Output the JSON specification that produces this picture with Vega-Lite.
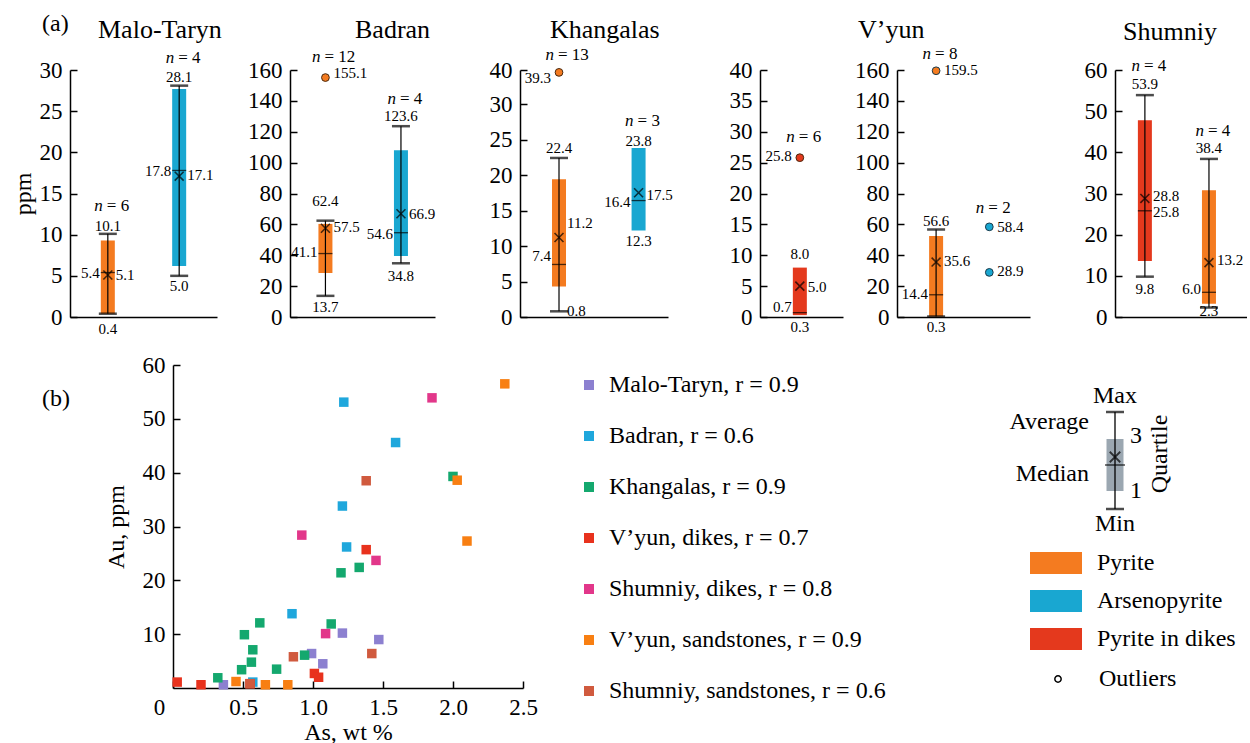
{
"$schema":"https://vega.github.io/schema/vega-lite/v6.json",
"background":"white",
"padding":{"left":11,"top":11,"right":0,"bottom":0},
"config":{
 "font":"Liberation Serif",
 "view":{"stroke":null},
 "axis":{"labelFont":"Liberation Serif","titleFont":"Liberation Serif","labelColor":"black","titleColor":"black","domainColor":"black","tickColor":"black","domainWidth":1.5,"tickWidth":1.5,"grid":false,"titleFontWeight":"normal","labelOverlap":false},
 "axisY":{"tickSize":-7,"labelFontSize":23,"labelPadding":15,"titleFontSize":24,"titlePadding":4},
 "title":{"font":"Liberation Serif","fontWeight":"normal","fontSize":26,"color":"black"},
 "text":{"font":"Liberation Serif","color":"black"},
 "legend":{"labelFont":"Liberation Serif","labelColor":"black","labelLimit":0}
},
"datasets":{
 "boxes":[
  {"panel":"MT","mineral":"Pyrite","min":0.4,"q1":0.4,"median":5.4,"mean":5.1,"q3":9.3,"max":10.1},
  {"panel":"MT","mineral":"Arsenopyrite","min":5.0,"q1":6.2,"median":17.8,"mean":17.1,"q3":27.7,"max":28.1},
  {"panel":"BA","mineral":"Pyrite","min":13.7,"q1":28.5,"median":41.1,"mean":57.5,"q3":60.3,"max":62.4},
  {"panel":"BA","mineral":"Arsenopyrite","min":34.8,"q1":39.5,"median":54.6,"mean":66.9,"q3":108,"max":123.6},
  {"panel":"KH","mineral":"Pyrite","min":0.8,"q1":4.3,"median":7.4,"mean":11.2,"q3":19.4,"max":22.4},
  {"panel":"KH","mineral":"Arsenopyrite","min":null,"q1":12.2,"median":16.4,"mean":17.5,"q3":23.8,"max":null},
  {"panel":"VD","mineral":"Pyrite in dikes","min":null,"q1":0.3,"median":0.7,"mean":5.0,"q3":8.0,"max":null},
  {"panel":"VS","mineral":"Pyrite","min":0.3,"q1":0.4,"median":14.4,"mean":35.6,"q3":52.5,"max":56.6},
  {"panel":"SH","mineral":"Pyrite in dikes","min":9.8,"q1":13.6,"median":25.8,"mean":28.8,"q3":47.8,"max":53.9},
  {"panel":"SH","mineral":"Pyrite","min":2.3,"q1":3.2,"median":6.0,"mean":13.2,"q3":30.8,"max":38.4}
 ],
 "outliers":[
  {"panel":"BA","mineral":"Pyrite","v":155.1},
  {"panel":"KH","mineral":"Pyrite","v":39.3},
  {"panel":"VD","mineral":"Pyrite in dikes","v":25.8},
  {"panel":"VS","mineral":"Pyrite","v":159.5},
  {"panel":"VS","mineral":"Arsenopyrite","v":58.4},
  {"panel":"VS","mineral":"Arsenopyrite","v":28.9}
 ],
 "labels":[
  {"panel":"MT","mineral":"Pyrite","v":13.5,"text":"= 6","side":"n"},
  {"panel":"MT","mineral":"Pyrite","v":11.0,"text":"10.1","side":"c"},
  {"panel":"MT","mineral":"Pyrite","v":5.4,"text":"5.4","side":"l"},
  {"panel":"MT","mineral":"Pyrite","v":5.1,"text":"5.1","side":"r"},
  {"panel":"MT","mineral":"Pyrite","v":-1.45,"text":"0.4","side":"c"},
  {"panel":"MT","mineral":"Arsenopyrite","v":31.4,"text":"= 4","side":"n"},
  {"panel":"MT","mineral":"Arsenopyrite","v":29.2,"text":"28.1","side":"c"},
  {"panel":"MT","mineral":"Arsenopyrite","v":17.7,"text":"17.8","side":"l"},
  {"panel":"MT","mineral":"Arsenopyrite","v":17.2,"text":"17.1","side":"r"},
  {"panel":"MT","mineral":"Arsenopyrite","v":3.8,"text":"5.0","side":"c"},
  {"panel":"BA","mineral":"Pyrite","v":168.5,"text":"= 12","side":"n"},
  {"panel":"BA","mineral":"Pyrite","v":158,"text":"155.1","side":"r"},
  {"panel":"BA","mineral":"Pyrite","v":75.4,"text":"62.4","side":"c"},
  {"panel":"BA","mineral":"Pyrite","v":58.5,"text":"57.5","side":"r"},
  {"panel":"BA","mineral":"Pyrite","v":42.3,"text":"41.1","side":"l"},
  {"panel":"BA","mineral":"Pyrite","v":6.5,"text":"13.7","side":"c"},
  {"panel":"BA","mineral":"Arsenopyrite","v":141,"text":"= 4","side":"n"},
  {"panel":"BA","mineral":"Arsenopyrite","v":130,"text":"123.6","side":"c"},
  {"panel":"BA","mineral":"Arsenopyrite","v":67,"text":"66.9","side":"r"},
  {"panel":"BA","mineral":"Arsenopyrite","v":54,"text":"54.6","side":"l"},
  {"panel":"BA","mineral":"Arsenopyrite","v":26.7,"text":"34.8","side":"c"},
  {"panel":"KH","mineral":"Pyrite","v":44.4,"text":"= 13","side":"n"},
  {"panel":"KH","mineral":"Pyrite","v":37.6,"text":"39.3","side":"l"},
  {"panel":"KH","mineral":"Pyrite","v":23.8,"text":"22.4","side":"c"},
  {"panel":"KH","mineral":"Pyrite","v":13.2,"text":"11.2","side":"r"},
  {"panel":"KH","mineral":"Pyrite","v":8.6,"text":"7.4","side":"l"},
  {"panel":"KH","mineral":"Pyrite","v":0.85,"text":"0.8","side":"r"},
  {"panel":"KH","mineral":"Arsenopyrite","v":27.6,"text":"= 3","side":"n"},
  {"panel":"KH","mineral":"Arsenopyrite","v":24.8,"text":"23.8","side":"c"},
  {"panel":"KH","mineral":"Arsenopyrite","v":17.2,"text":"17.5","side":"r"},
  {"panel":"KH","mineral":"Arsenopyrite","v":16.2,"text":"16.4","side":"l"},
  {"panel":"KH","mineral":"Arsenopyrite","v":10.7,"text":"12.3","side":"c"},
  {"panel":"VD","mineral":"Pyrite in dikes","v":29.1,"text":"= 6","side":"n"},
  {"panel":"VD","mineral":"Pyrite in dikes","v":26,"text":"25.8","side":"l"},
  {"panel":"VD","mineral":"Pyrite in dikes","v":10.2,"text":"8.0","side":"c"},
  {"panel":"VD","mineral":"Pyrite in dikes","v":4.8,"text":"5.0","side":"r"},
  {"panel":"VD","mineral":"Pyrite in dikes","v":1.6,"text":"0.7","side":"l"},
  {"panel":"VD","mineral":"Pyrite in dikes","v":-1.6,"text":"0.3","side":"c"},
  {"panel":"VS","mineral":"Pyrite","v":170.4,"text":"= 8","side":"n"},
  {"panel":"VS","mineral":"Pyrite","v":160,"text":"159.5","side":"r"},
  {"panel":"VS","mineral":"Pyrite","v":62.4,"text":"56.6","side":"c"},
  {"panel":"VS","mineral":"Pyrite","v":36.1,"text":"35.6","side":"r"},
  {"panel":"VS","mineral":"Pyrite","v":15,"text":"14.4","side":"l"},
  {"panel":"VS","mineral":"Pyrite","v":-6.5,"text":"0.3","side":"c"},
  {"panel":"VS","mineral":"Arsenopyrite","v":70.9,"text":"= 2","side":"n"},
  {"panel":"VS","mineral":"Arsenopyrite","v":58.5,"text":"58.4","side":"r"},
  {"panel":"VS","mineral":"Arsenopyrite","v":29.6,"text":"28.9","side":"r"},
  {"panel":"SH","mineral":"Pyrite in dikes","v":61.0,"text":"= 4","side":"n"},
  {"panel":"SH","mineral":"Pyrite in dikes","v":56.7,"text":"53.9","side":"c"},
  {"panel":"SH","mineral":"Pyrite in dikes","v":29.4,"text":"28.8","side":"r"},
  {"panel":"SH","mineral":"Pyrite in dikes","v":25.5,"text":"25.8","side":"r"},
  {"panel":"SH","mineral":"Pyrite in dikes","v":6.8,"text":"9.8","side":"c"},
  {"panel":"SH","mineral":"Pyrite","v":45.2,"text":"= 4","side":"n"},
  {"panel":"SH","mineral":"Pyrite","v":41,"text":"38.4","side":"c"},
  {"panel":"SH","mineral":"Pyrite","v":13.9,"text":"13.2","side":"r"},
  {"panel":"SH","mineral":"Pyrite","v":6.8,"text":"6.0","side":"l"},
  {"panel":"SH","mineral":"Pyrite","v":1.5,"text":"2.3","side":"c"}
 ],
 "scatter":[
  {"deposit":"Malo-Taryn, r = 0.9","as":0.36,"au":0.6},
  {"deposit":"Malo-Taryn, r = 0.9","as":0.99,"au":6.4},
  {"deposit":"Malo-Taryn, r = 0.9","as":1.07,"au":4.5},
  {"deposit":"Malo-Taryn, r = 0.9","as":1.21,"au":10.2},
  {"deposit":"Malo-Taryn, r = 0.9","as":1.47,"au":9.0},
  {"deposit":"Badran, r = 0.6","as":1.22,"au":53.1},
  {"deposit":"Badran, r = 0.6","as":1.59,"au":45.6},
  {"deposit":"Badran, r = 0.6","as":1.21,"au":33.8},
  {"deposit":"Badran, r = 0.6","as":1.24,"au":26.2},
  {"deposit":"Badran, r = 0.6","as":0.85,"au":13.8},
  {"deposit":"Badran, r = 0.6","as":0.57,"au":1.1},
  {"deposit":"Khangalas, r = 0.9","as":0.32,"au":1.9},
  {"deposit":"Khangalas, r = 0.9","as":0.49,"au":3.4},
  {"deposit":"Khangalas, r = 0.9","as":0.51,"au":9.9},
  {"deposit":"Khangalas, r = 0.9","as":0.56,"au":4.8},
  {"deposit":"Khangalas, r = 0.9","as":0.57,"au":7.1},
  {"deposit":"Khangalas, r = 0.9","as":0.62,"au":12.1},
  {"deposit":"Khangalas, r = 0.9","as":0.74,"au":3.5},
  {"deposit":"Khangalas, r = 0.9","as":0.94,"au":6.1},
  {"deposit":"Khangalas, r = 0.9","as":1.13,"au":11.9},
  {"deposit":"Khangalas, r = 0.9","as":1.20,"au":21.4},
  {"deposit":"Khangalas, r = 0.9","as":1.33,"au":22.4},
  {"deposit":"Khangalas, r = 0.9","as":2.00,"au":39.3},
  {"deposit":"V’yun, dikes, r = 0.7","as":0.03,"au":1.1},
  {"deposit":"V’yun, dikes, r = 0.7","as":0.20,"au":0.6},
  {"deposit":"V’yun, dikes, r = 0.7","as":0.55,"au":0.8},
  {"deposit":"V’yun, dikes, r = 0.7","as":1.01,"au":2.7},
  {"deposit":"V’yun, dikes, r = 0.7","as":1.04,"au":2.0},
  {"deposit":"V’yun, dikes, r = 0.7","as":1.38,"au":25.7},
  {"deposit":"Shumniy, dikes, r = 0.8","as":1.85,"au":53.9},
  {"deposit":"Shumniy, dikes, r = 0.8","as":0.92,"au":28.4},
  {"deposit":"Shumniy, dikes, r = 0.8","as":1.45,"au":23.7},
  {"deposit":"Shumniy, dikes, r = 0.8","as":1.09,"au":10.1},
  {"deposit":"V’yun, sandstones, r = 0.9","as":2.37,"au":56.5},
  {"deposit":"V’yun, sandstones, r = 0.9","as":2.03,"au":38.6},
  {"deposit":"V’yun, sandstones, r = 0.9","as":2.10,"au":27.3},
  {"deposit":"V’yun, sandstones, r = 0.9","as":0.45,"au":1.2},
  {"deposit":"V’yun, sandstones, r = 0.9","as":0.66,"au":0.6},
  {"deposit":"V’yun, sandstones, r = 0.9","as":0.82,"au":0.6},
  {"deposit":"Shumniy, sandstones, r = 0.6","as":1.38,"au":38.5},
  {"deposit":"Shumniy, sandstones, r = 0.6","as":1.42,"au":6.4},
  {"deposit":"Shumniy, sandstones, r = 0.6","as":0.86,"au":5.8},
  {"deposit":"Shumniy, sandstones, r = 0.6","as":0.55,"au":0.8}
 ],
 "key":[{"item":"box","min":0,"q1":18,"median":44,"mean":52,"q3":70,"max":97}],
 "keylabels":[
  {"item":"box","v":113,"text":"Max","side":"c"},
  {"item":"box","v":-15,"text":"Min","side":"c"},
  {"item":"box","v":87,"text":"Average","side":"l"},
  {"item":"box","v":35,"text":"Median","side":"l"},
  {"item":"box","v":73,"text":"3","side":"r"},
  {"item":"box","v":18,"text":"1","side":"r"},
  {"item":"box","v":55,"text":"Quartile","side":"q"}
 ]
},
"title":{"text":"(a)","anchor":"start","frame":"group","offset":-19,"dx":-28,"fontSize":24},
"spacing":17,
"bounds":"full",
"vconcat":[
 {"hconcat":[
  {"width":200,"height":247,
   "title":{"text":"Malo-Taryn","anchor":"start","frame":"group","offset":6,"dx":28},
   "data":{"name":"boxes"},"transform":[{"filter":"datum.panel == 'MT'"}],
   "encoding":{
    "x":{"field":"mineral","type":"nominal","scale":{"type":"point","domain":["Pyrite","Arsenopyrite"],"range":[0,147],"padding":0.53,"align":0.5},"axis":{"title":null,"labels":false,"ticks":false}},
    "y":{"field":"v","type":"quantitative","scale":{"domain":[0,30],"nice":false},"axis":{"values":[0,5,10,15,20,25,30],"title":"ppm"}}},
   "layer":[
    {"transform":[{"fold":["q1"],"as":["stat","v"]}],"mark":{"type":"bar","size":14},"encoding":{"y2":{"field":"q3"},"fill":{"field":"mineral","type":"nominal","scale":{"domain":["Pyrite","Arsenopyrite","Pyrite in dikes"],"range":["#f47b20","#19a7d1","#e4391d"]},"legend":{"title":null,"orient":"none","legendX":960,"legendY":467,"symbolType":"M-1,-0.42H1V0.42H-1Z","symbolSize":2704,"symbolStrokeWidth":0,"labelFontSize":24,"labelOffset":15,"rowPadding":-14,"padding":0}}}},
    {"transform":[{"fold":["min"],"as":["stat","v"]},{"filter":"datum.v != null"}],"mark":{"type":"rule","color":"black","strokeWidth":1.2},"encoding":{"y2":{"field":"max"}}},
    {"transform":[{"fold":["min","max"],"as":["stat","v"]},{"filter":"datum.v != null"}],"mark":{"type":"tick","color":"black","size":18,"thickness":2.5}},
    {"transform":[{"fold":["median"],"as":["stat","v"]}],"mark":{"type":"tick","color":"black","size":14,"thickness":1.3}},
    {"transform":[{"fold":["mean"],"as":["stat","v"]}],"mark":{"type":"point","shape":"M-1,-1L1,1M-1,1L1,-1","filled":false,"stroke":"black","strokeWidth":1.6,"size":80}},
    {"data":{"name":"labels"},"transform":[{"filter":"datum.panel == 'MT' && datum.side == 'c'"}],"mark":{"type":"text","fontSize":15,"align":"center","baseline":"middle"},"encoding":{"text":{"field":"text"}}},
    {"data":{"name":"labels"},"transform":[{"filter":"datum.panel == 'MT' && datum.side == 'l'"}],"mark":{"type":"text","fontSize":15,"align":"right","baseline":"middle","dx":-8},"encoding":{"text":{"field":"text"}}},
    {"data":{"name":"labels"},"transform":[{"filter":"datum.panel == 'MT' && datum.side == 'r'"}],"mark":{"type":"text","fontSize":15,"align":"left","baseline":"middle","dx":8},"encoding":{"text":{"field":"text"}}},
    {"data":{"name":"labels"},"transform":[{"filter":"datum.panel == 'MT' && datum.side == 'n'"}],"mark":{"type":"text","fontSize":17,"fontStyle":"italic","align":"right","baseline":"middle","dx":-5},"encoding":{"text":{"value":"n"}}},
    {"data":{"name":"labels"},"transform":[{"filter":"datum.panel == 'MT' && datum.side == 'n'"}],"mark":{"type":"text","fontSize":17,"align":"left","baseline":"middle","dx":-1},"encoding":{"text":{"field":"text"}}}
   ]},
  {"width":210,"height":247,
   "title":{"text":"Badran","anchor":"start","frame":"group","offset":5,"dx":65},
   "data":{"name":"boxes"},"transform":[{"filter":"datum.panel == 'BA'"}],
   "encoding":{
    "x":{"field":"mineral","type":"nominal","scale":{"type":"point","domain":["Pyrite","Arsenopyrite"],"range":[0,145],"padding":0.46,"align":0.51},"axis":{"title":null,"labels":false,"ticks":false}},
    "y":{"field":"v","type":"quantitative","scale":{"domain":[0,160],"nice":false},"axis":{"values":[0,20,40,60,80,100,120,140,160],"title":null}}},
   "layer":[
    {"transform":[{"fold":["q1"],"as":["stat","v"]}],"mark":{"type":"bar","size":14},"encoding":{"y2":{"field":"q3"},"fill":{"field":"mineral","type":"nominal","scale":{"domain":["Pyrite","Arsenopyrite","Pyrite in dikes"],"range":["#f47b20","#19a7d1","#e4391d"]}}}},
    {"transform":[{"fold":["min"],"as":["stat","v"]},{"filter":"datum.v != null"}],"mark":{"type":"rule","color":"black","strokeWidth":1.2},"encoding":{"y2":{"field":"max"}}},
    {"transform":[{"fold":["min","max"],"as":["stat","v"]},{"filter":"datum.v != null"}],"mark":{"type":"tick","color":"black","size":18,"thickness":2.5}},
    {"transform":[{"fold":["median"],"as":["stat","v"]}],"mark":{"type":"tick","color":"black","size":14,"thickness":1.3}},
    {"transform":[{"fold":["mean"],"as":["stat","v"]}],"mark":{"type":"point","shape":"M-1,-1L1,1M-1,1L1,-1","filled":false,"stroke":"black","strokeWidth":1.6,"size":80}},
    {"data":{"name":"outliers"},"transform":[{"filter":"datum.panel == 'BA'"}],"mark":{"type":"point","filled":true,"size":60,"stroke":"#4a2a10","strokeWidth":1,"opacity":1},"encoding":{"fill":{"field":"mineral","type":"nominal","scale":{"domain":["Pyrite","Arsenopyrite","Pyrite in dikes"],"range":["#f47b20","#19a7d1","#e4391d"]}},"shape":{"datum":"Outliers","type":"nominal","scale":{"domain":["Outliers"],"range":["circle"]},"legend":{"title":null,"orient":"none","legendX":976,"legendY":597,"symbolSize":40,"symbolFillColor":"white","symbolStrokeColor":"black","symbolStrokeWidth":1.5,"labelFontSize":24,"labelOffset":29,"padding":0}}}},
    {"data":{"name":"labels"},"transform":[{"filter":"datum.panel == 'BA' && datum.side == 'c'"}],"mark":{"type":"text","fontSize":15,"align":"center","baseline":"middle"},"encoding":{"text":{"field":"text"}}},
    {"data":{"name":"labels"},"transform":[{"filter":"datum.panel == 'BA' && datum.side == 'l'"}],"mark":{"type":"text","fontSize":15,"align":"right","baseline":"middle","dx":-8},"encoding":{"text":{"field":"text"}}},
    {"data":{"name":"labels"},"transform":[{"filter":"datum.panel == 'BA' && datum.side == 'r'"}],"mark":{"type":"text","fontSize":15,"align":"left","baseline":"middle","dx":8},"encoding":{"text":{"field":"text"}}},
    {"data":{"name":"labels"},"transform":[{"filter":"datum.panel == 'BA' && datum.side == 'n'"}],"mark":{"type":"text","fontSize":17,"fontStyle":"italic","align":"right","baseline":"middle","dx":-5},"encoding":{"text":{"value":"n"}}},
    {"data":{"name":"labels"},"transform":[{"filter":"datum.panel == 'BA' && datum.side == 'n'"}],"mark":{"type":"text","fontSize":17,"align":"left","baseline":"middle","dx":-1},"encoding":{"text":{"field":"text"}}}
   ]},
  {"width":220,"height":247,
   "title":{"text":"Khangalas","anchor":"start","frame":"group","offset":3,"dx":30},
   "data":{"name":"boxes"},"transform":[{"filter":"datum.panel == 'KH'"}],
   "encoding":{
    "x":{"field":"mineral","type":"nominal","scale":{"type":"point","domain":["Pyrite","Arsenopyrite"],"range":[0,148],"padding":0.43,"align":0.57},"axis":{"title":null,"labels":false,"ticks":false}},
    "y":{"field":"v","type":"quantitative","scale":{"domain":[0,30,40],"range":[247,34,0],"nice":false,"zero":false},"axis":{"values":[0,5,10,15,20,25,30,40],"title":null}}},
   "layer":[
    {"transform":[{"fold":["q1"],"as":["stat","v"]}],"mark":{"type":"bar","size":14},"encoding":{"y2":{"field":"q3"},"fill":{"field":"mineral","type":"nominal","scale":{"domain":["Pyrite","Arsenopyrite","Pyrite in dikes"],"range":["#f47b20","#19a7d1","#e4391d"]}}}},
    {"transform":[{"fold":["min"],"as":["stat","v"]},{"filter":"datum.v != null"}],"mark":{"type":"rule","color":"black","strokeWidth":1.2},"encoding":{"y2":{"field":"max"}}},
    {"transform":[{"fold":["min","max"],"as":["stat","v"]},{"filter":"datum.v != null"}],"mark":{"type":"tick","color":"black","size":18,"thickness":2.5}},
    {"transform":[{"fold":["median"],"as":["stat","v"]}],"mark":{"type":"tick","color":"black","size":14,"thickness":1.3}},
    {"transform":[{"fold":["mean"],"as":["stat","v"]}],"mark":{"type":"point","shape":"M-1,-1L1,1M-1,1L1,-1","filled":false,"stroke":"black","strokeWidth":1.6,"size":80}},
    {"data":{"name":"outliers"},"transform":[{"filter":"datum.panel == 'KH'"}],"mark":{"type":"point","filled":true,"size":60,"stroke":"#4a2a10","strokeWidth":1,"opacity":1},"encoding":{"fill":{"field":"mineral","type":"nominal","scale":{"domain":["Pyrite","Arsenopyrite","Pyrite in dikes"],"range":["#f47b20","#19a7d1","#e4391d"]}},"shape":{"datum":"Outliers","type":"nominal","scale":{"domain":["Outliers"],"range":["circle"]}}}},
    {"data":{"name":"labels"},"transform":[{"filter":"datum.panel == 'KH' && datum.side == 'c'"}],"mark":{"type":"text","fontSize":15,"align":"center","baseline":"middle"},"encoding":{"text":{"field":"text"}}},
    {"data":{"name":"labels"},"transform":[{"filter":"datum.panel == 'KH' && datum.side == 'l'"}],"mark":{"type":"text","fontSize":15,"align":"right","baseline":"middle","dx":-8},"encoding":{"text":{"field":"text"}}},
    {"data":{"name":"labels"},"transform":[{"filter":"datum.panel == 'KH' && datum.side == 'r'"}],"mark":{"type":"text","fontSize":15,"align":"left","baseline":"middle","dx":8},"encoding":{"text":{"field":"text"}}},
    {"data":{"name":"labels"},"transform":[{"filter":"datum.panel == 'KH' && datum.side == 'n'"}],"mark":{"type":"text","fontSize":17,"fontStyle":"italic","align":"right","baseline":"middle","dx":-5},"encoding":{"text":{"value":"n"}}},
    {"data":{"name":"labels"},"transform":[{"filter":"datum.panel == 'KH' && datum.side == 'n'"}],"mark":{"type":"text","fontSize":17,"align":"left","baseline":"middle","dx":-1},"encoding":{"text":{"field":"text"}}}
   ]},
  {"width":117,"height":247,
   "data":{"name":"boxes"},"transform":[{"filter":"datum.panel == 'VD'"}],
   "encoding":{
    "x":{"field":"mineral","type":"nominal","scale":{"type":"point","domain":["Pyrite in dikes"],"range":[0,83],"padding":0.5,"align":0.48},"axis":{"title":null,"labels":false,"ticks":false}},
    "y":{"field":"v","type":"quantitative","scale":{"domain":[0,40],"nice":false},"axis":{"values":[0,5,10,15,20,25,30,35,40],"title":null}}},
   "layer":[
    {"transform":[{"fold":["q1"],"as":["stat","v"]}],"mark":{"type":"bar","size":14},"encoding":{"y2":{"field":"q3"},"fill":{"field":"mineral","type":"nominal","scale":{"domain":["Pyrite","Arsenopyrite","Pyrite in dikes"],"range":["#f47b20","#19a7d1","#e4391d"]}}}},
    {"transform":[{"fold":["median"],"as":["stat","v"]}],"mark":{"type":"tick","color":"black","size":14,"thickness":1.3}},
    {"transform":[{"fold":["mean"],"as":["stat","v"]}],"mark":{"type":"point","shape":"M-1,-1L1,1M-1,1L1,-1","filled":false,"stroke":"black","strokeWidth":1.6,"size":80}},
    {"data":{"name":"outliers"},"transform":[{"filter":"datum.panel == 'VD'"}],"mark":{"type":"point","filled":true,"size":60,"stroke":"#4a2a10","strokeWidth":1,"opacity":1},"encoding":{"fill":{"field":"mineral","type":"nominal","scale":{"domain":["Pyrite","Arsenopyrite","Pyrite in dikes"],"range":["#f47b20","#19a7d1","#e4391d"]}},"shape":{"datum":"Outliers","type":"nominal","scale":{"domain":["Outliers"],"range":["circle"]}}}},
    {"data":{"name":"labels"},"transform":[{"filter":"datum.panel == 'VD' && datum.side == 'c'"}],"mark":{"type":"text","fontSize":15,"align":"center","baseline":"middle"},"encoding":{"text":{"field":"text"}}},
    {"data":{"name":"labels"},"transform":[{"filter":"datum.panel == 'VD' && datum.side == 'l'"}],"mark":{"type":"text","fontSize":15,"align":"right","baseline":"middle","dx":-8},"encoding":{"text":{"field":"text"}}},
    {"data":{"name":"labels"},"transform":[{"filter":"datum.panel == 'VD' && datum.side == 'r'"}],"mark":{"type":"text","fontSize":15,"align":"left","baseline":"middle","dx":8},"encoding":{"text":{"field":"text"}}},
    {"data":{"name":"labels"},"transform":[{"filter":"datum.panel == 'VD' && datum.side == 'n'"}],"mark":{"type":"text","fontSize":17,"fontStyle":"italic","align":"right","baseline":"middle","dx":-5},"encoding":{"text":{"value":"n"}}},
    {"data":{"name":"labels"},"transform":[{"filter":"datum.panel == 'VD' && datum.side == 'n'"}],"mark":{"type":"text","fontSize":17,"align":"left","baseline":"middle","dx":-1},"encoding":{"text":{"field":"text"}}}
   ]},
  {"width":198,"height":247,
   "title":{"text":"V’yun","anchor":"start","frame":"group","offset":2,"dx":-39},
   "data":{"name":"boxes"},"transform":[{"filter":"datum.panel == 'VS'"}],
   "encoding":{
    "x":{"field":"mineral","type":"nominal","scale":{"type":"point","domain":["Pyrite","Arsenopyrite"],"range":[0,133],"padding":0.75,"align":0.49},"axis":{"title":null,"labels":false,"ticks":false}},
    "y":{"field":"v","type":"quantitative","scale":{"domain":[0,160],"nice":false},"axis":{"values":[0,20,40,60,80,100,120,140,160],"title":null}}},
   "layer":[
    {"transform":[{"fold":["q1"],"as":["stat","v"]}],"mark":{"type":"bar","size":14},"encoding":{"y2":{"field":"q3"},"fill":{"field":"mineral","type":"nominal","scale":{"domain":["Pyrite","Arsenopyrite","Pyrite in dikes"],"range":["#f47b20","#19a7d1","#e4391d"]}}}},
    {"transform":[{"fold":["min"],"as":["stat","v"]},{"filter":"datum.v != null"}],"mark":{"type":"rule","color":"black","strokeWidth":1.2},"encoding":{"y2":{"field":"max"}}},
    {"transform":[{"fold":["min","max"],"as":["stat","v"]},{"filter":"datum.v != null"}],"mark":{"type":"tick","color":"black","size":18,"thickness":2.5}},
    {"transform":[{"fold":["median"],"as":["stat","v"]}],"mark":{"type":"tick","color":"black","size":14,"thickness":1.3}},
    {"transform":[{"fold":["mean"],"as":["stat","v"]}],"mark":{"type":"point","shape":"M-1,-1L1,1M-1,1L1,-1","filled":false,"stroke":"black","strokeWidth":1.6,"size":80}},
    {"data":{"name":"outliers"},"transform":[{"filter":"datum.panel == 'VS'"}],"mark":{"type":"point","filled":true,"size":60,"stroke":"#1a3a4a","strokeWidth":1,"opacity":1},"encoding":{"fill":{"field":"mineral","type":"nominal","scale":{"domain":["Pyrite","Arsenopyrite","Pyrite in dikes"],"range":["#f47b20","#19a7d1","#e4391d"]}},"shape":{"datum":"Outliers","type":"nominal","scale":{"domain":["Outliers"],"range":["circle"]}}}},
    {"data":{"name":"labels"},"transform":[{"filter":"datum.panel == 'VS' && datum.side == 'c'"}],"mark":{"type":"text","fontSize":15,"align":"center","baseline":"middle"},"encoding":{"text":{"field":"text"}}},
    {"data":{"name":"labels"},"transform":[{"filter":"datum.panel == 'VS' && datum.side == 'l'"}],"mark":{"type":"text","fontSize":15,"align":"right","baseline":"middle","dx":-8},"encoding":{"text":{"field":"text"}}},
    {"data":{"name":"labels"},"transform":[{"filter":"datum.panel == 'VS' && datum.side == 'r'"}],"mark":{"type":"text","fontSize":15,"align":"left","baseline":"middle","dx":8},"encoding":{"text":{"field":"text"}}},
    {"data":{"name":"labels"},"transform":[{"filter":"datum.panel == 'VS' && datum.side == 'n'"}],"mark":{"type":"text","fontSize":17,"fontStyle":"italic","align":"right","baseline":"middle","dx":-5},"encoding":{"text":{"value":"n"}}},
    {"data":{"name":"labels"},"transform":[{"filter":"datum.panel == 'VS' && datum.side == 'n'"}],"mark":{"type":"text","fontSize":17,"align":"left","baseline":"middle","dx":-1},"encoding":{"text":{"field":"text"}}}
   ]},
  {"width":132,"height":247,
   "title":{"text":"Shumniy","anchor":"start","frame":"group","offset":12,"dx":8},
   "data":{"name":"boxes"},"transform":[{"filter":"datum.panel == 'SH'"}],
   "encoding":{
    "x":{"field":"mineral","type":"nominal","scale":{"type":"point","domain":["Pyrite in dikes","Pyrite"],"range":[0,132],"padding":0.53,"align":0.44},"axis":{"title":null,"labels":false,"ticks":false}},
    "y":{"field":"v","type":"quantitative","scale":{"domain":[0,60],"nice":false},"axis":{"values":[0,10,20,30,40,50,60],"title":null}}},
   "layer":[
    {"transform":[{"fold":["q1"],"as":["stat","v"]}],"mark":{"type":"bar","size":14},"encoding":{"y2":{"field":"q3"},"fill":{"field":"mineral","type":"nominal","scale":{"domain":["Pyrite","Arsenopyrite","Pyrite in dikes"],"range":["#f47b20","#19a7d1","#e4391d"]}}}},
    {"transform":[{"fold":["min"],"as":["stat","v"]},{"filter":"datum.v != null"}],"mark":{"type":"rule","color":"black","strokeWidth":1.2},"encoding":{"y2":{"field":"max"}}},
    {"transform":[{"fold":["min","max"],"as":["stat","v"]},{"filter":"datum.v != null"}],"mark":{"type":"tick","color":"black","size":18,"thickness":2.5}},
    {"transform":[{"fold":["median"],"as":["stat","v"]}],"mark":{"type":"tick","color":"black","size":14,"thickness":1.3}},
    {"transform":[{"fold":["mean"],"as":["stat","v"]}],"mark":{"type":"point","shape":"M-1,-1L1,1M-1,1L1,-1","filled":false,"stroke":"black","strokeWidth":1.6,"size":80}},
    {"data":{"name":"labels"},"transform":[{"filter":"datum.panel == 'SH' && datum.side == 'c'"}],"mark":{"type":"text","fontSize":15,"align":"center","baseline":"middle"},"encoding":{"text":{"field":"text"}}},
    {"data":{"name":"labels"},"transform":[{"filter":"datum.panel == 'SH' && datum.side == 'l'"}],"mark":{"type":"text","fontSize":15,"align":"right","baseline":"middle","dx":-8},"encoding":{"text":{"field":"text"}}},
    {"data":{"name":"labels"},"transform":[{"filter":"datum.panel == 'SH' && datum.side == 'r'"}],"mark":{"type":"text","fontSize":15,"align":"left","baseline":"middle","dx":8},"encoding":{"text":{"field":"text"}}},
    {"data":{"name":"labels"},"transform":[{"filter":"datum.panel == 'SH' && datum.side == 'n'"}],"mark":{"type":"text","fontSize":17,"fontStyle":"italic","align":"right","baseline":"middle","dx":-5},"encoding":{"text":{"value":"n"}}},
    {"data":{"name":"labels"},"transform":[{"filter":"datum.panel == 'SH' && datum.side == 'n'"}],"mark":{"type":"text","fontSize":17,"align":"left","baseline":"middle","dx":-1},"encoding":{"text":{"field":"text"}}}
   ]}
 ],"spacing":20,"bounds":"flush"},
 {"hconcat":[
  {"width":83,"height":323,
   "title":{"text":"(b)","anchor":"start","frame":"group","offset":-46,"dx":-28,"fontSize":24},
   "data":{"values":[]},
   "mark":{"type":"text"},
   "encoding":{}},
  {"width":350,"height":323,
   "data":{"name":"scatter"},
   "mark":{"type":"point","shape":"square","filled":true,"size":90,"opacity":1},
   "encoding":{
    "x":{"field":"as","type":"quantitative","scale":{"domain":[0,2.5],"nice":false},"axis":{"values":[0,0.5,1,1.5,2,2.5],"labelExpr":"datum.value == 0 ? '0' : format(datum.value, '.1f')","labelOffset":{"condition":{"test":"datum.value == 0","value":-14},"value":0},"tickSize":-7,"labelFontSize":23,"labelPadding":15,"labelFlush":false,"title":"As, wt %","titleFontSize":24,"titlePadding":1}},
    "y":{"field":"au","type":"quantitative","scale":{"domain":[0,60],"nice":false},"axis":{"values":[10,20,30,40,50,60],"labelFontSize":23,"title":"Au, ppm","titlePadding":14}},
    "color":{"field":"deposit","type":"nominal","scale":{"domain":["Malo-Taryn, r = 0.9","Badran, r = 0.6","Khangalas, r = 0.9","V’yun, dikes, r = 0.7","Shumniy, dikes, r = 0.8","V’yun, sandstones, r = 0.9","Shumniy, sandstones, r = 0.6"],"range":["#8c80d0","#1fa7dc","#14a86e","#e8321d","#e2378a","#f87f12","#d05a3e"]},"legend":{"title":null,"orient":"none","legendX":507,"legendY":303,"symbolType":"square","symbolSize":100,"symbolStrokeWidth":0,"labelFontSize":24,"labelOffset":8,"rowPadding":27,"padding":0}}}},
  {"width":704,"height":323,
   "data":{"name":"key"},
   "encoding":{
    "x":{"field":"item","type":"nominal","scale":{"type":"point","domain":["box"],"padding":0.5,"align":0.8125},"axis":null},
    "y":{"field":"v","type":"quantitative","scale":{"domain":[-179,144],"nice":false,"zero":false},"axis":null}},
   "layer":[
    {"transform":[{"fold":["q1"],"as":["stat","v"]}],"mark":{"type":"bar","size":17,"color":"#9ba7b1"},"encoding":{"y2":{"field":"q3"}}},
    {"transform":[{"fold":["min"],"as":["stat","v"]}],"mark":{"type":"rule","color":"black","strokeWidth":1.3},"encoding":{"y2":{"field":"max"}}},
    {"transform":[{"fold":["min","max"],"as":["stat","v"]}],"mark":{"type":"tick","color":"black","size":18,"thickness":2.5}},
    {"transform":[{"fold":["median"],"as":["stat","v"]}],"mark":{"type":"tick","color":"black","size":20,"thickness":1.5}},
    {"transform":[{"fold":["mean"],"as":["stat","v"]}],"mark":{"type":"point","shape":"M-1,-1L1,1M-1,1L1,-1","filled":false,"stroke":"black","strokeWidth":1.8,"size":110}},
    {"mark":{"type":"rule","color":"#555","strokeWidth":0.9,"xOffset":-33,"x2Offset":-2},"encoding":{"y":{"datum":75},"y2":{"datum":51},"x2":{"field":"item"}}},
    {"mark":{"type":"rule","color":"#555","strokeWidth":0.9,"xOffset":-25,"x2Offset":-8},"encoding":{"y":{"datum":35},"y2":{"datum":40},"x2":{"field":"item"}}},
    {"data":{"name":"keylabels"},"transform":[{"filter":"datum.side == 'c'"}],"mark":{"type":"text","fontSize":24,"align":"center","baseline":"middle"},"encoding":{"text":{"field":"text"}}},
    {"data":{"name":"keylabels"},"transform":[{"filter":"datum.side == 'l'"}],"mark":{"type":"text","fontSize":24,"align":"right","baseline":"middle","dx":-26},"encoding":{"text":{"field":"text"}}},
    {"data":{"name":"keylabels"},"transform":[{"filter":"datum.side == 'r'"}],"mark":{"type":"text","fontSize":24,"align":"left","baseline":"middle","dx":15},"encoding":{"text":{"field":"text"}}},
    {"data":{"name":"keylabels"},"transform":[{"filter":"datum.side == 'q'"}],"mark":{"type":"text","fontSize":24,"align":"center","baseline":"middle","dy":45,"angle":270},"encoding":{"text":{"field":"text"}}}
   ]}
 ],"spacing":20,"bounds":"flush"}
]
}
